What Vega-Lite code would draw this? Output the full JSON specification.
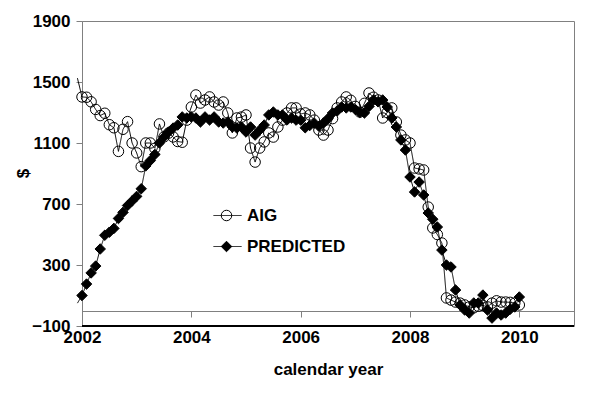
{
  "$schema": "https://vega.github.io/schema/vega-lite/v6.json",
  "width": 492,
  "height": 305,
  "autosize": "none",
  "padding": {"left": 82, "top": 21, "right": 24, "bottom": 68},
  "background": "white",
  "config": {
    "font": "Liberation Sans",
    "view": {"stroke": "#808080", "strokeWidth": 1},
    "axis": {"labelFont": "Liberation Sans", "labelFontSize": 17, "labelFontWeight": "bold", "labelColor": "black", "titleFont": "Liberation Sans", "titleFontSize": 17, "titleFontWeight": "bold", "titleColor": "black", "domainColor": "#808080", "tickColor": "#808080", "tickSize": 6, "grid": false, "labelOverlap": false, "labelFlush": false},
    "axisX": {"offset": -15, "labelPadding": 12, "titlePadding": 16},
    "axisY": {"labelPadding": 6, "titleX": -50, "titleY": 152}
  },
  "data": {"values": [
    {"t": 2001.9167, "AIG": 1525, "PREDICTED": 50},
    {"t": 2002, "AIG": 1402, "PREDICTED": 100},
    {"t": 2002.0833, "AIG": 1400, "PREDICTED": 175},
    {"t": 2002.1667, "AIG": 1370, "PREDICTED": 248},
    {"t": 2002.25, "AIG": 1320, "PREDICTED": 293},
    {"t": 2002.3333, "AIG": 1280, "PREDICTED": 405},
    {"t": 2002.4167, "AIG": 1295, "PREDICTED": 495},
    {"t": 2002.5, "AIG": 1220, "PREDICTED": 515},
    {"t": 2002.5833, "AIG": 1200, "PREDICTED": 540},
    {"t": 2002.6667, "AIG": 1045, "PREDICTED": 605},
    {"t": 2002.75, "AIG": 1190, "PREDICTED": 645},
    {"t": 2002.8333, "AIG": 1240, "PREDICTED": 690},
    {"t": 2002.9167, "AIG": 1100, "PREDICTED": 720},
    {"t": 2003, "AIG": 1035, "PREDICTED": 750},
    {"t": 2003.0833, "AIG": 945, "PREDICTED": 800},
    {"t": 2003.1667, "AIG": 1100, "PREDICTED": 950},
    {"t": 2003.25, "AIG": 1100, "PREDICTED": 985},
    {"t": 2003.3333, "AIG": 1065, "PREDICTED": 1025},
    {"t": 2003.4167, "AIG": 1225, "PREDICTED": 1100},
    {"t": 2003.5, "AIG": 1140, "PREDICTED": 1139},
    {"t": 2003.5833, "AIG": 1165, "PREDICTED": 1172},
    {"t": 2003.6667, "AIG": 1140, "PREDICTED": 1198},
    {"t": 2003.75, "AIG": 1110, "PREDICTED": 1218},
    {"t": 2003.8333, "AIG": 1105, "PREDICTED": 1271},
    {"t": 2003.9167, "AIG": 1250, "PREDICTED": 1264},
    {"t": 2004, "AIG": 1336, "PREDICTED": 1271},
    {"t": 2004.0833, "AIG": 1415, "PREDICTED": 1264},
    {"t": 2004.1667, "AIG": 1362, "PREDICTED": 1238},
    {"t": 2004.25, "AIG": 1382, "PREDICTED": 1271},
    {"t": 2004.3333, "AIG": 1402, "PREDICTED": 1251},
    {"t": 2004.4167, "AIG": 1369, "PREDICTED": 1271},
    {"t": 2004.5, "AIG": 1349, "PREDICTED": 1238},
    {"t": 2004.5833, "AIG": 1369, "PREDICTED": 1231},
    {"t": 2004.6667, "AIG": 1297, "PREDICTED": 1238},
    {"t": 2004.75, "AIG": 1166, "PREDICTED": 1205},
    {"t": 2004.8333, "AIG": 1264, "PREDICTED": 1198},
    {"t": 2004.9167, "AIG": 1270, "PREDICTED": 1205},
    {"t": 2005, "AIG": 1284, "PREDICTED": 1172},
    {"t": 2005.0833, "AIG": 1067, "PREDICTED": 1205},
    {"t": 2005.1667, "AIG": 975, "PREDICTED": 1152},
    {"t": 2005.25, "AIG": 1067, "PREDICTED": 1185},
    {"t": 2005.3333, "AIG": 1107, "PREDICTED": 1218},
    {"t": 2005.4167, "AIG": 1166, "PREDICTED": 1284},
    {"t": 2005.5, "AIG": 1139, "PREDICTED": 1303},
    {"t": 2005.5833, "AIG": 1205, "PREDICTED": 1284},
    {"t": 2005.6667, "AIG": 1250, "PREDICTED": 1284},
    {"t": 2005.75, "AIG": 1297, "PREDICTED": 1251},
    {"t": 2005.8333, "AIG": 1330, "PREDICTED": 1264},
    {"t": 2005.9167, "AIG": 1330, "PREDICTED": 1250},
    {"t": 2006, "AIG": 1290, "PREDICTED": 1250},
    {"t": 2006.0833, "AIG": 1297, "PREDICTED": 1200},
    {"t": 2006.1667, "AIG": 1284, "PREDICTED": 1215},
    {"t": 2006.25, "AIG": 1250, "PREDICTED": 1230},
    {"t": 2006.3333, "AIG": 1185, "PREDICTED": 1210},
    {"t": 2006.4167, "AIG": 1152, "PREDICTED": 1231},
    {"t": 2006.5, "AIG": 1185, "PREDICTED": 1260},
    {"t": 2006.5833, "AIG": 1260, "PREDICTED": 1297},
    {"t": 2006.6667, "AIG": 1330, "PREDICTED": 1310},
    {"t": 2006.75, "AIG": 1369, "PREDICTED": 1336},
    {"t": 2006.8333, "AIG": 1402, "PREDICTED": 1330},
    {"t": 2006.9167, "AIG": 1380, "PREDICTED": 1336},
    {"t": 2007, "AIG": 1340, "PREDICTED": 1320},
    {"t": 2007.0833, "AIG": 1303, "PREDICTED": 1300},
    {"t": 2007.1667, "AIG": 1360, "PREDICTED": 1297},
    {"t": 2007.25, "AIG": 1428, "PREDICTED": 1340},
    {"t": 2007.3333, "AIG": 1400, "PREDICTED": 1382},
    {"t": 2007.4167, "AIG": 1382, "PREDICTED": 1370},
    {"t": 2007.5, "AIG": 1264, "PREDICTED": 1382},
    {"t": 2007.5833, "AIG": 1300, "PREDICTED": 1336},
    {"t": 2007.6667, "AIG": 1330, "PREDICTED": 1264},
    {"t": 2007.75, "AIG": 1238, "PREDICTED": 1205},
    {"t": 2007.8333, "AIG": 1152, "PREDICTED": 1120},
    {"t": 2007.9167, "AIG": 1120, "PREDICTED": 1054},
    {"t": 2008, "AIG": 1100, "PREDICTED": 877},
    {"t": 2008.0833, "AIG": 936, "PREDICTED": 779},
    {"t": 2008.1667, "AIG": 930, "PREDICTED": 844},
    {"t": 2008.25, "AIG": 923, "PREDICTED": 759},
    {"t": 2008.3333, "AIG": 680, "PREDICTED": 641},
    {"t": 2008.4167, "AIG": 543, "PREDICTED": 600},
    {"t": 2008.5, "AIG": 500, "PREDICTED": 549},
    {"t": 2008.5833, "AIG": 444, "PREDICTED": 398},
    {"t": 2008.6667, "AIG": 84, "PREDICTED": 300},
    {"t": 2008.75, "AIG": 70, "PREDICTED": 287},
    {"t": 2008.8333, "AIG": 57, "PREDICTED": 136},
    {"t": 2008.9167, "AIG": 50, "PREDICTED": 38},
    {"t": 2009, "AIG": 38, "PREDICTED": 5},
    {"t": 2009.0833, "AIG": 25, "PREDICTED": -15},
    {"t": 2009.1667, "AIG": 20, "PREDICTED": 51},
    {"t": 2009.25, "AIG": 30, "PREDICTED": 51},
    {"t": 2009.3333, "AIG": 35, "PREDICTED": 103},
    {"t": 2009.4167, "AIG": 25, "PREDICTED": 5},
    {"t": 2009.5, "AIG": 50, "PREDICTED": -48},
    {"t": 2009.5833, "AIG": 65, "PREDICTED": -15},
    {"t": 2009.6667, "AIG": 57, "PREDICTED": -28},
    {"t": 2009.75, "AIG": 57, "PREDICTED": -15},
    {"t": 2009.8333, "AIG": 55, "PREDICTED": 10},
    {"t": 2009.9167, "AIG": 50, "PREDICTED": 25},
    {"t": 2010, "AIG": 38, "PREDICTED": 90}
  ]},
  "transform": [{"fold": ["AIG", "PREDICTED"], "as": ["s", "v"]}],
  "layer": [
    {
      "mark": {"type": "rule", "color": "black", "strokeWidth": 1.5},
      "encoding": {
        "y": {"datum": -100, "type": "quantitative", "title": "$", "scale": {"domain": [-100, 1900], "nice": false, "zero": false}, "axis": {"values": [-100, 300, 700, 1100, 1500, 1900], "format": "d"}}
      }
    },
    {
      "mark": {"type": "line", "strokeWidth": 1, "color": "black"},
      "encoding": {
        "x": {"field": "t", "type": "quantitative", "title": "calendar year", "scale": {"domain": [2002, 2011], "nice": false, "zero": false}, "axis": {"values": [2002, 2004, 2006, 2008, 2010], "format": "d"}},
        "y": {"field": "v", "type": "quantitative", "title": "$", "scale": {"domain": [-100, 1900], "nice": false, "zero": false}, "axis": {"values": [-100, 300, 700, 1100, 1500, 1900], "format": "d"}},
        "strokeDash": {"field": "s", "type": "nominal", "scale": {"domain": ["AIG", "PREDICTED"], "range": [[1, 0], [1, 0]]}, "legend": {"orient": "none", "legendX": 131, "legendY": 180, "title": null, "symbolType": "stroke", "symbolSize": 784, "symbolStrokeWidth": 1, "symbolStrokeColor": "black", "labelExpr": "''", "rowPadding": 8, "labelFontSize": 17}}
      }
    },
    {
      "transform": [{"filter": "datum.t >= 2002"}],
      "mark": {"type": "point", "filled": false, "strokeWidth": 1, "size": 110, "opacity": 1},
      "encoding": {
        "x": {"field": "t", "type": "quantitative", "title": "calendar year", "scale": {"domain": [2002, 2011], "nice": false, "zero": false}, "axis": {"values": [2002, 2004, 2006, 2008, 2010], "format": "d"}},
        "y": {"field": "v", "type": "quantitative", "title": "$", "scale": {"domain": [-100, 1900], "nice": false, "zero": false}, "axis": {"values": [-100, 300, 700, 1100, 1500, 1900], "format": "d"}},
        "stroke": {"field": "s", "type": "nominal", "scale": {"range": ["black", "black"]}, "legend": {"orient": "none", "legendX": 136, "legendY": 186, "title": null, "symbolSize": 110, "symbolStrokeWidth": 1, "labelOffset": 12, "rowPadding": 13, "labelFont": "Liberation Sans", "labelFontSize": 17, "labelFontWeight": "bold", "labelColor": "black"}},
        "shape": {"field": "s", "type": "nominal", "scale": {"range": ["circle", "diamond"]}, "legend": {"orient": "none", "legendX": 136, "legendY": 186, "title": null, "symbolSize": 110, "symbolStrokeWidth": 1, "labelOffset": 12, "rowPadding": 13, "labelFont": "Liberation Sans", "labelFontSize": 17, "labelFontWeight": "bold", "labelColor": "black"}},
        "fill": {"field": "s", "type": "nominal", "scale": {"range": ["transparent", "black"]}, "legend": {"orient": "none", "legendX": 136, "legendY": 186, "title": null, "symbolSize": 110, "symbolStrokeWidth": 1, "labelOffset": 12, "rowPadding": 13, "labelFont": "Liberation Sans", "labelFontSize": 17, "labelFontWeight": "bold", "labelColor": "black"}}
      }
    }
  ]
}
